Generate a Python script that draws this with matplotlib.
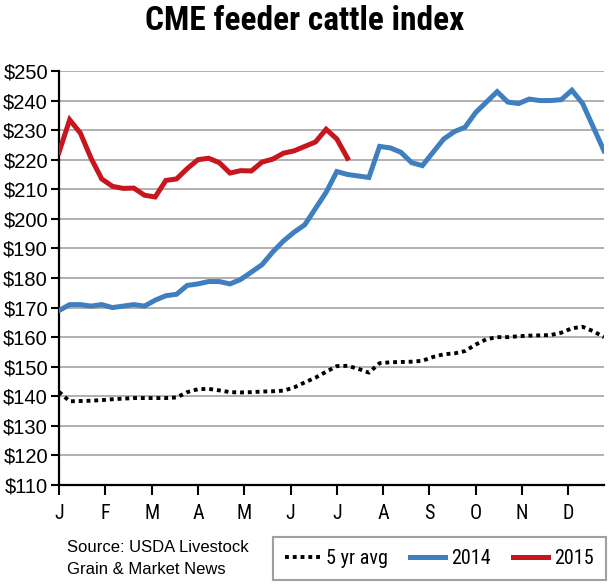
import matplotlib
matplotlib.use("Agg")
import matplotlib.pyplot as plt
from matplotlib import font_manager as fm
import numpy as np

# ---- data (weekly, weeks 1..52) ----
months = ["J", "F", "M", "A", "M", "J", "J", "A", "S", "O", "N", "D"]
avg5 = [141.5, 138.3, 138.4, 138.5, 138.7, 139.0, 139.2, 139.4, 139.4, 139.4,
        139.4, 139.6, 141.4, 142.4, 142.5, 142.0, 141.4, 141.3, 141.4, 141.6,
        141.7, 141.9, 143.0, 144.7, 146.3, 148.3, 150.2, 150.3, 149.3, 148.0,
        151.2, 151.5, 151.6, 151.7, 152.0, 153.3, 154.2, 154.5, 155.3, 157.5,
        159.3, 160.0, 160.0, 160.3, 160.5, 160.6, 160.7, 161.5, 163.0, 163.5,
        162.0, 160.0]
y2014 = [169.0, 171.0, 171.0, 170.5, 171.0, 170.0, 170.5, 171.0, 170.5, 172.5,
         174.0, 174.5, 177.5, 178.0, 178.8, 178.8, 178.0, 179.5, 182.0, 184.5,
         188.8, 192.5, 195.5, 198.0, 203.5, 209.0, 216.0, 215.0, 214.5, 214.0,
         224.5, 224.0, 222.5, 219.0, 218.0, 222.5, 227.0, 229.5, 231.0, 236.0,
         239.5, 243.0, 239.5, 239.0, 240.5, 240.0, 240.0, 240.3, 243.5, 239.0,
         231.0, 223.0]
y2015 = [222.5, 233.5, 229.0, 220.5, 213.5, 211.0, 210.3, 210.4, 208.0, 207.4,
         213.0, 213.5, 217.0, 220.0, 220.5, 219.0, 215.5, 216.3, 216.2, 219.2,
         220.2, 222.2, 223.0, 224.5, 226.0, 230.3, 227.0, 220.5]
yticks = list(range(110, 251, 10))
ytick_labels = [f"${v}" for v in yticks]

def pick(names):
    avail = {f.name for f in fm.fontManager.ttflist}
    for n in names:
        if n in avail:
            return n
    return "DejaVu Sans"

narrow = pick(["Liberation Sans Narrow", "Roboto Condensed", "Liberation Sans"])
regular = pick(["Liberation Sans", "Arial", "DejaVu Sans"])

BLUE = "#3f7fbf"
RED = "#c8161f"

fig = plt.figure(figsize=(6.10, 5.87), dpi=100)
ax = fig.add_axes([59/610, 1-485/587, (604-59)/610, (485-71)/587])

x_avg = np.arange(len(avg5))
x14 = np.arange(len(y2014))
x15 = np.arange(len(y2015))

for v in yticks:
    ax.axhline(v, color="#b0b0b0", lw=1.4, zorder=1)

la, = ax.plot(x_avg, avg5, color="black", lw=2.8, linestyle=(0, (1, 1.0)),
              dash_capstyle="butt", zorder=3, label="5 yr avg")
lb, = ax.plot(x14, y2014, color=BLUE, lw=3.6, solid_joinstyle="miter", zorder=4, label="2014")
lr, = ax.plot(x15, y2015, color=RED, lw=3.6, solid_joinstyle="miter", zorder=5, label="2015")

ax.set_xlim(0, 51)
ax.set_ylim(110, 250)
ax.set_yticks(yticks)
ax.set_yticklabels(ytick_labels, fontfamily=regular, fontsize=14.5)
mpos = [i * 52 / 12 for i in range(12)]
ax.set_xticks(mpos)
ax.set_xticklabels(months, fontfamily=narrow, fontsize=14.5)
ax.tick_params(axis="y", length=6, width=1.5, pad=2, direction="out")
ax.tick_params(axis="x", length=7, width=1.5, pad=7, direction="out")
for s in ["top", "right"]:
    ax.spines[s].set_visible(False)
for s in ["left", "bottom"]:
    ax.spines[s].set_linewidth(1.6)
ax.spines["bottom"].set_zorder(6)

fig.text(0.5, 1-21/587, "CME feeder cattle index", ha="center", va="center",
         fontfamily=narrow, fontweight="bold", fontsize=24)

fig.text(67/610, 1-548/587, "Source: USDA Livestock", ha="left", va="center",
         fontfamily=regular, fontsize=12)
fig.text(67/610, 1-570/587, "Grain & Market News", ha="left", va="center",
         fontfamily=regular, fontsize=12)

leg = fig.legend(handles=[la, lb, lr], loc="center",
                 bbox_to_anchor=(439.5/610, 1-558.5/587),
                 ncol=3, frameon=True, fancybox=False,
                 prop={"family": narrow, "size": 14.5}, handlelength=1.75,
                 handletextpad=0.3, columnspacing=1.1, borderaxespad=0.0,
                 borderpad=0.6)
leg.get_frame().set_edgecolor("#888888")
leg.get_frame().set_linewidth(1.5)

fig.savefig("out.png", dpi=100)
